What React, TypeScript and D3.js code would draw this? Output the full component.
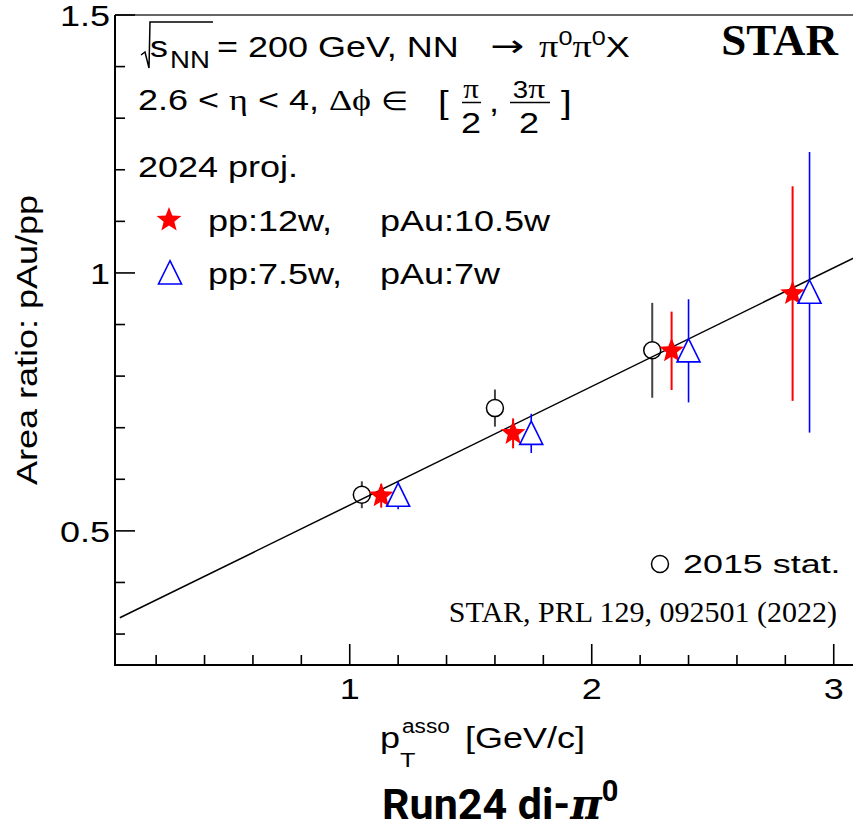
import React from "react";
import * as d3 from "d3";

// ---------- data ----------
const circleX = [1.05, 1.6, 2.25];
const circleY = [0.57, 0.738, 0.85];
const circleErr = [0.026, 0.036, 0.092];

const starX = [1.13, 1.675, 2.33, 2.83];
const starY = [0.568, 0.689, 0.849, 0.96];
const starErr = [0.023, 0.029, 0.076, 0.208];

const triX = [1.2, 1.75, 2.4, 2.9];
const triY = [0.569, 0.689, 0.849, 0.9625];
const triErr = [0.027, 0.038, 0.1, 0.272];

const fitParams = [0.32, 0.23]; // intercept, slope
const fitRange = [0.05, 3.3];

const xMajorTicks = [1, 2, 3];
const xMajorLabels = ["1", "2", "3"];
const xMinorTicks = [0.2, 0.4, 0.6, 0.8, 1.2, 1.4, 1.6, 1.8, 2.2, 2.4, 2.6, 2.8];
const yMajorTicks = [0.5, 1, 1.5];
const yMajorLabels = ["0.5", "1", "1.5"];
const yMinorTicks = [0.3, 0.4, 0.6, 0.7, 0.8, 0.9, 1.1, 1.2, 1.3, 1.4];

const legendEntries = [
  { marker: "star", a: "pp:12w,", b: "pAu:10.5w" },
  { marker: "tri", a: "pp:7.5w,", b: "pAu:7w" },
];

// ---------- layout ----------
const W = 853;
const H = 829;
const L = 115;
const T0 = 15;
const B = 665;
const SANS = "'Liberation Sans', Arial, Helvetica, sans-serif";
const SERIF = "'Liberation Serif', 'Times New Roman', serif";
const SX = 1.2;

const x = d3.scaleLinear().domain([0.03, 3.1]).range([L, L + 3.07 * 242]);
const y = d3.scaleLinear().domain([0.24, 1.5]).range([B, T0]);

const RED = "#ff0000";
const BLUE = "#0000ff";

function starPath(cx: number, cy: number, R: number, r: number) {
  const pts: [number, number][] = [];
  for (let i = 0; i < 10; i++) {
    const ang = -Math.PI / 2 + (i * Math.PI) / 5;
    const rad = i % 2 === 0 ? R : r;
    pts.push([cx + rad * Math.cos(ang), cy + rad * Math.sin(ang)]);
  }
  return d3.line()(pts)! + "Z";
}

function triPath(cx: number, cy: number) {
  const pts: [number, number][] = [
    [cx, cy - 12.3],
    [cx + 11.5, cy + 11],
    [cx - 11.5, cy + 11],
  ];
  return d3.line()(pts)! + "Z";
}

function ST(props: {
  x: number;
  y: number;
  size?: number;
  sx?: number;
  anchor?: string;
  family?: string;
  weight?: string | number;
  children: React.ReactNode;
}) {
  const { size = 30, sx = SX, anchor = "start", family = SANS, weight } = props;
  return (
    <text
      transform={`translate(${props.x},${props.y}) scale(${sx},1)`}
      fontSize={size}
      fontFamily={family}
      fontWeight={weight}
      textAnchor={anchor}
      fill="#000"
    >
      {props.children}
    </text>
  );
}

export default function App() {
  const fitLine = d3
    .line<number>()
    .x((d) => x(d))
    .y((d) => y(fitParams[0] + fitParams[1] * d));

  return (
    <svg
      width={W}
      height={H}
      viewBox={`0 0 ${W} ${H}`}
      style={{ position: "absolute", left: 0, top: 0, background: "#fff" }}
    >
      <defs>
        <clipPath id="plotclip">
          <rect x={L} y={T0} width={W - L} height={B - T0} />
        </clipPath>
      </defs>
      <rect x={0} y={0} width={W} height={H} fill="#fff" />

      {/* fit line */}
      <path
        d={fitLine(fitRange)!}
        stroke="#000"
        strokeWidth={1.5}
        fill="none"
        clipPath="url(#plotclip)"
      />

      {/* 2015 circles */}
      {circleX.map((cx, i) => {
        const px = x(cx);
        const py = y(circleY[i]);
        const r = 8.5;
        return (
          <g key={"c" + i}>
            <line x1={px} x2={px} y1={y(circleY[i] + circleErr[i])} y2={py - r} stroke="#444" strokeWidth={2} />
            <line x1={px} x2={px} y1={py + r} y2={y(circleY[i] - circleErr[i])} stroke="#444" strokeWidth={2} />
            <circle cx={px} cy={py} r={r} fill="none" stroke="#000" strokeWidth={1.5} />
          </g>
        );
      })}

      {/* stars */}
      {starX.map((sx, i) => {
        const px = x(sx);
        const py = y(starY[i]);
        return (
          <g key={"s" + i}>
            <line x1={px} x2={px} y1={y(starY[i] + starErr[i])} y2={y(starY[i] - starErr[i])} stroke={RED} strokeWidth={2} />
            <path d={starPath(px, py, 13, 5.6)} fill={RED} />
          </g>
        );
      })}

      {/* triangles */}
      {triX.map((tx, i) => {
        const px = x(tx);
        const py = y(triY[i]);
        const top = y(triY[i] + triErr[i]);
        const bot = y(triY[i] - triErr[i]);
        return (
          <g key={"t" + i}>
            {top < py - 12.3 && <line x1={px} x2={px} y1={top} y2={py - 12.3} stroke={BLUE} strokeWidth={1.6} />}
            {bot > py + 11 && <line x1={px} x2={px} y1={py + 11} y2={bot} stroke={BLUE} strokeWidth={1.6} />}
            <path d={triPath(px, py)} fill="none" stroke={BLUE} strokeWidth={1.6} />
          </g>
        );
      })}

      {/* frame / axes */}
      <line x1={L} x2={W} y1={T0} y2={T0} stroke="#333" strokeWidth={1.5} />
      <line x1={L} x2={L} y1={T0} y2={B + 1} stroke="#000" strokeWidth={2} />
      <line x1={L - 1} x2={W} y1={B} y2={B} stroke="#000" strokeWidth={2} />

      {yMajorTicks.map((v, i) => (
        <g key={"ym" + i}>
          <line x1={L} x2={L + 20} y1={y(v)} y2={y(v)} stroke="#000" strokeWidth={1.6} />
          <ST x={110} y={y(v) + 11} anchor="end">
            {yMajorLabels[i]}
          </ST>
        </g>
      ))}
      {yMinorTicks.map((v, i) => (
        <line key={"yn" + i} x1={L} x2={L + 10} y1={y(v)} y2={y(v)} stroke="#000" strokeWidth={1.6} />
      ))}
      {xMajorTicks.map((v, i) => (
        <g key={"xm" + i}>
          <line x1={x(v)} x2={x(v)} y1={B} y2={B - 21} stroke="#000" strokeWidth={1.6} />
          <ST x={x(v)} y={699} anchor="middle">
            {xMajorLabels[i]}
          </ST>
        </g>
      ))}
      {xMinorTicks.map((v, i) => (
        <line key={"xn" + i} x1={x(v)} x2={x(v)} y1={B} y2={B - 10} stroke="#000" strokeWidth={1.6} />
      ))}

      {/* axis titles */}
      <text
        transform={`translate(37,340) rotate(-90) scale(${SX},1)`}
        fontSize={30}
        fontFamily={SANS}
        textAnchor="middle"
      >
        Area ratio: pAu/pp
      </text>
      <ST x={380} y={748}>p</ST>
      <ST x={400} y={767} size={21}>T</ST>
      <ST x={402} y={733} size={21} sx={1.08}>asso</ST>
      <ST x={465} y={748}>[GeV/c]</ST>

      <text x={382} y={819} fontFamily="Roboto, 'Open Sans', sans-serif" fontWeight="bold" fontSize={43}>
        Run24 di-
        <tspan fontFamily="'DejaVu Serif', serif" fontStyle="italic" fontWeight="bold">
          π
        </tspan>
        <tspan dy={-18} fontSize={29}>
          0
        </tspan>
      </text>

      {/* header line 1 */}
      <path d="M141,55 L145,52 L149,68 L150,22 L213,22" fill="none" stroke="#000" strokeWidth={1.5} />
      <ST x={150} y={57}>s</ST>
      <ST x={170} y={68} size={23}>NN</ST>
      <ST x={217} y={57}>= 200 GeV, NN</ST>
      <ST x={490} y={56} size={30} sx={1.35} family="'DejaVu Sans', sans-serif">→</ST>
      <ST x={539} y={57} size={32} family={SERIF}>
        π<tspan dy={-12} fontSize={21} fontFamily={SANS}>0</tspan>
        <tspan dy={12}>π</tspan>
        <tspan dy={-12} fontSize={21} fontFamily={SANS}>0</tspan>
        <tspan dy={12} fontSize={30} fontFamily={SANS}>X</tspan>
      </ST>

      {/* header line 2 */}
      <ST x={138} y={110}>
        2.6 &lt; <tspan fontFamily={SERIF}>η</tspan> &lt; 4, <tspan fontFamily={SERIF}>Δϕ</tspan>{" "}
        <tspan fontFamily={SERIF} fontSize={26}>∈</tspan>
      </ST>
      <ST x={438} y={113} size={32}>[</ST>
      <ST x={471} y={98} size={28} sx={1.1} anchor="middle" family={SERIF}>π</ST>
      <line x1={462} x2={481} y1={102.5} y2={102.5} stroke="#000" strokeWidth={1.5} />
      <ST x={471} y={133} anchor="middle">2</ST>
      <ST x={489} y={112}>,</ST>
      <ST x={529} y={98} size={23} anchor="middle">
        3<tspan fontFamily={SERIF} fontSize={28}>π</tspan>
      </ST>
      <line x1={510} x2={550} y1={102.5} y2={102.5} stroke="#000" strokeWidth={1.5} />
      <ST x={529} y={133} anchor="middle">2</ST>
      <ST x={561} y={113} size={32}>]</ST>

      {/* 2024 proj. */}
      <ST x={138} y={177}>2024 proj.</ST>

      {/* STAR */}
      <text x={838} y={55} fontFamily={SERIF} fontWeight="bold" fontSize={45} textAnchor="end">
        STAR
      </text>

      {/* legend */}
      {legendEntries.map((e, i) => {
        const ly = 220 + i * 53;
        return (
          <g key={"lg" + i}>
            {e.marker === "star" ? (
              <path d={starPath(169, ly, 13, 5.6)} fill={RED} />
            ) : (
              <path d={triPath(170, ly)} fill="none" stroke={BLUE} strokeWidth={1.6} />
            )}
            <ST x={208} y={ly + 11}>{e.a}</ST>
            <ST x={380} y={ly + 11}>{e.b}</ST>
          </g>
        );
      })}

      {/* 2015 stat. */}
      <circle cx={660} cy={564} r={8.5} fill="none" stroke="#000" strokeWidth={1.5} />
      <ST x={683} y={573} size={26} sx={1.38}>2015 stat.</ST>

      <text x={837} y={622} fontFamily={SERIF} fontSize={30} textAnchor="end">
        STAR, PRL 129, 092501 (2022)
      </text>
    </svg>
  );
}
